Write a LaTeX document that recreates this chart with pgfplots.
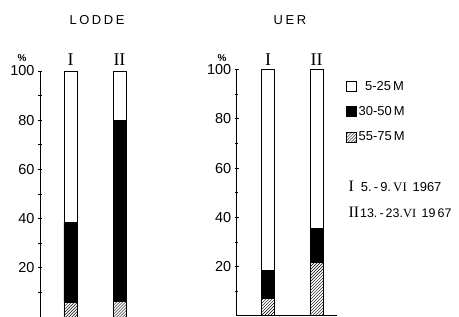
\documentclass[border=0pt]{standalone}
\usepackage{fontspec}
\setmainfont{Liberation Sans}
\newfontfamily\romanfont{Liberation Serif}
\usepackage{pgfplots}
\pgfplotsset{compat=1.18}
\usetikzlibrary{patterns}
\pgfplotsset{
  mybars/.style={
    ybar stacked, scale only axis, x=1bp, y=2.46bp,
    ymin=0, ymax=100, ytick={20,40,...,100}, minor ytick={10,30,...,90},
    xtick=\empty, tick align=inside,
    major tick length=4bp, minor tick length=3.5bp,
    tick style={black, line width=0.8pt},
    tick label style={font=\fontsize{14.5}{16}\selectfont},
    /pgf/number format/assume math mode=true,
    clip=false,
  },
  nolinearrows/.style={
    axis line style={-, line width=0.9pt},
    every outer x axis line/.append style={-},
    every outer y axis line/.append style={-},
    every inner x axis line/.append style={-},
    every inner y axis line/.append style={-},
    x axis line style={-}, y axis line style={-},
  },
  hatchbar/.style={draw=black, line width=0.8pt, pattern=north east lines},
  blackbar/.style={draw=black, line width=0.8pt, fill=black},
  whitebar/.style={draw=black, line width=0.8pt, fill=white},
}
\begin{document}
\begin{tikzpicture}
\useasboundingbox (0,0) rectangle (459bp,317bp);
% LODDE
\begin{axis}[mybars, at={(40bp,0bp)}, anchor=south west,
  xmin=40, xmax=150, bar width=13bp,
  axis x line=none, axis y line=left, nolinearrows]
\addplot[hatchbar] coordinates {(70.5,6) (119.5,6.5)};
\addplot[blackbar] coordinates {(70.5,32.5) (119.5,73.5)};
\addplot[whitebar] coordinates {(70.5,61.5) (119.5,20)};
\node[font=\fontsize{13}{13}\selectfont\addfontfeatures{LetterSpace=20}] at (axis cs:97,120.7) {LODDE};
\node[font=\fontsize{10}{10}\selectfont\bfseries] at (axis cs:22,105.3) {\%};
\node[font=\romanfont\fontsize{18}{18}\selectfont, anchor=base] at (axis cs:70.5,102.4) {I};
\node[font=\romanfont\fontsize{18}{18}\selectfont, anchor=base] at (axis cs:119.5,102.4) {II};
\end{axis}
% UER
\begin{axis}[mybars, at={(236.7bp,1.3bp)}, anchor=south west,
  xmin=236.7, xmax=336.7, bar width=12.6bp,
  axis x line=bottom, axis y line=left, nolinearrows,
  reverse legend,
  legend style={at={(1.09,0.963)}, anchor=north west, draw=none, fill=none,
    font=\fontsize{13}{15}\selectfont, row sep=11bp, inner sep=0pt},
  legend cell align=left,
  legend image code/.code={\draw[#1] (0bp,-5bp) rectangle (10bp,5bp);}]
\addplot[hatchbar] coordinates {(268,7) (316.7,21.5)};
\addplot[blackbar] coordinates {(268,11.5) (316.7,14)};
\addplot[whitebar] coordinates {(268,81.5) (316.7,64.5)};
\legend{55-75\,M, 30-50\,M, \,\,\,5-25\,M}
\node[font=\fontsize{13}{13}\selectfont\addfontfeatures{LetterSpace=20}] at (axis cs:290,120.2) {UER};
\node[font=\fontsize{10}{10}\selectfont\bfseries] at (axis cs:222,104.8) {\%};
\node[font=\romanfont\fontsize{18}{18}\selectfont, anchor=base] at (axis cs:268,101.9) {I};
\node[font=\romanfont\fontsize{18}{18}\selectfont, anchor=base] at (axis cs:316.7,101.9) {II};
\node[anchor=base west, font=\fontsize{13}{13}\selectfont] at (axis cs:345,50.3)
  {{\romanfont\fontsize{16}{16}\selectfont I}\hspace{7bp}5.\,-\,9.\,{\romanfont VI}\, 1967};
\node[anchor=base west, font=\fontsize{12.5}{12.5}\selectfont] at (axis cs:345,40.1)
  {{\romanfont\fontsize{16}{16}\selectfont II}\hspace{1bp}13.\,-\,23.{\romanfont VI}\, 19\,67};
\end{axis}
\end{tikzpicture}
\end{document}
